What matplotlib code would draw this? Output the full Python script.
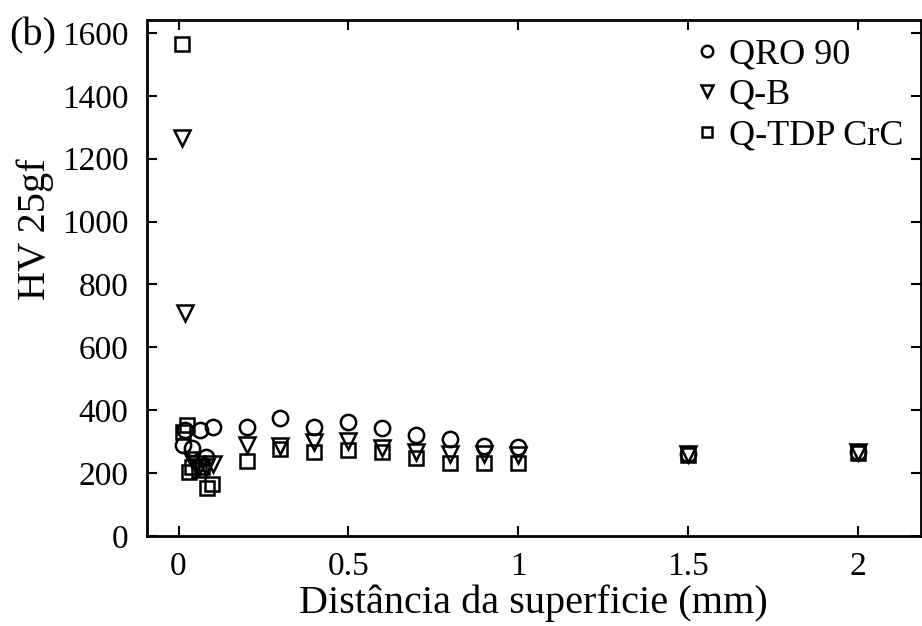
import matplotlib
matplotlib.use("Agg")
import matplotlib.pyplot as plt

plt.rcParams['font.family'] = ['Liberation Serif', 'DejaVu Serif']

qro_x = [0.012, 0.018, 0.041, 0.062, 0.082, 0.1, 0.2, 0.3, 0.4, 0.5, 0.6, 0.7, 0.8, 0.9, 1.0, 1.5, 2.0]
qro_y = [289, 337, 280, 337, 251, 347, 347, 375, 347, 363, 343, 321, 308, 286, 283, 262, 267]

qb_x = [0.01, 0.02, 0.04, 0.05, 0.06, 0.08, 0.1, 0.2, 0.3, 0.4, 0.5, 0.6, 0.7, 0.8, 0.9, 1.0, 1.5, 2.0]
qb_y = [1265, 709, 240, 230, 220, 220, 230, 290, 285, 299, 302, 280, 267, 261, 262, 256, 262, 267]

qt_x = [0.01, 0.012, 0.026, 0.032, 0.04, 0.06, 0.07, 0.085, 0.097, 0.2, 0.3, 0.4, 0.5, 0.6, 0.7, 0.8, 0.9, 1.0, 1.5, 2.0]
qt_y = [1565, 331, 353, 204, 220, 210, 220, 153, 165, 239, 277, 267, 272, 268, 248, 232, 232, 232, 258, 265]

fig = plt.figure(figsize=(9.22, 6.26), dpi=100)
ax = fig.add_axes([0.159, 0.144, 0.840, 0.824])

ms = 11
ax.plot(qro_x, qro_y, 'o', mfc='none', mec='black', mew=1.8, ms=ms, label='QRO 90')
ax.plot(qb_x, qb_y, 'v', mfc='none', mec='black', mew=1.8, ms=ms + 1, label='Q-B')
ax.plot(qt_x, qt_y, 's', mfc='none', mec='black', mew=1.8, ms=ms - 1, label='Q-TDP CrC')

ax.set_xlim(-0.094, 2.185)
ax.set_ylim(0, 1641)
ax.set_xticks([0, 0.5, 1, 1.5, 2])
ax.set_xticklabels(['0', '0.5', '1', '1.5', '2'])
ax.set_yticks(range(0, 1601, 200))

ax.tick_params(direction='in', top=True, right=True, length=7, width=1.5,
               labelsize=24)
ax.tick_params(axis='x', pad=11)
ax.tick_params(axis='y', pad=13)
for s in ax.spines.values():
    s.set_linewidth(2)

ax.set_xlabel('Distância da superficie (mm)', fontsize=29, labelpad=2)
ax.set_ylabel('HV 25gf', fontsize=29, labelpad=6)
ax.yaxis.label.set_y(0.595)

leg = ax.legend(loc='upper right', frameon=False, fontsize=26, markerscale=0.75,
                handletextpad=0.3, labelspacing=0.2, handlelength=0.6,
                borderaxespad=0.1)

fig.text(0.010, 0.972, '(b)', fontsize=29, va='top', ha='left')

fig.savefig('out.png', dpi=100)
